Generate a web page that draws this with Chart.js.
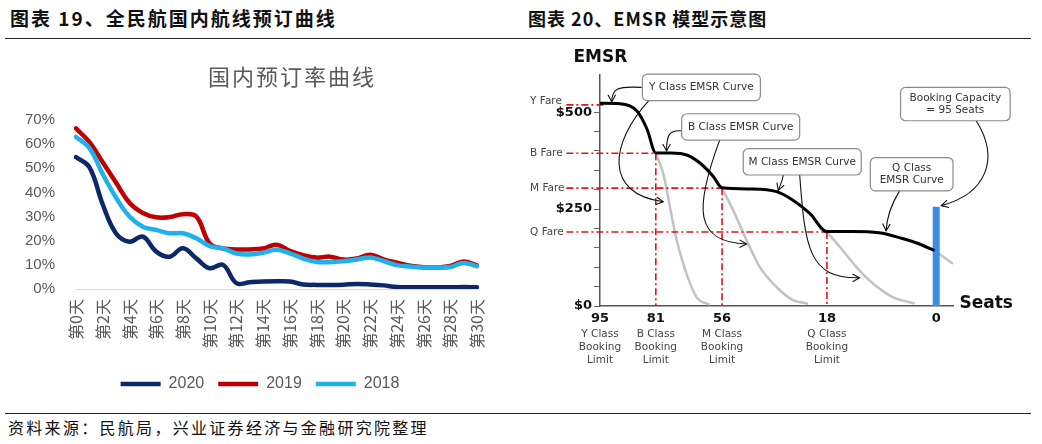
<!DOCTYPE html>
<html lang="zh-CN">
<head>
<meta charset="utf-8">
<title>国内预订率曲线 / EMSR 模型示意图</title>
<script src="https://cdn.jsdelivr.net/npm/chart.js@4.4.1/dist/chart.umd.min.js"></script>
<style>
    html, body { margin: 0; padding: 0; background: #fff; }
    #page { position: relative; width: 1042px; height: 444px; overflow: hidden; }
    .fig-title { position: absolute; top: 6px; font-family: "Noto Sans CJK SC"; font-weight: bold;
                 font-size: 18px; line-height: 24px; color: #111; white-space: pre; }
    .rule { position: absolute; left: 5px; width: 1026px; height: 0; border-top: 1.5px solid #222; }
    .source { position: absolute; left: 8px; top: 416px; font-family: "Noto Sans CJK SC";
              font-size: 16px; line-height: 22px; color: #111; letter-spacing: 2.3px; white-space: nowrap; }
    canvas { position: absolute; top: 40px; }
</style>
</head>
<body>
<div id="page">
    <div class="fig-title" style="left:10px; font-size:19px; letter-spacing:2px">图表 19、全民航国内航线预订曲线</div>
    <div class="fig-title" style="left:528px; letter-spacing:1px">图表 20、EMSR 模型示意图</div>
    <div class="rule" style="top:38px"></div>
    <canvas id="bookingChart" width="520" height="360" style="left:0"></canvas>
    <canvas id="emsrChart" width="522" height="360" style="left:520px"></canvas>
    <div class="rule" style="top:413px"></div>
    <div class="source">资料来源：民航局，兴业证券经济与金融研究院整理</div>
</div>
<script>
// 左图：国内预订率曲线（%）
const dayLabels = ['第0天', '第1天', '第2天', '第3天', '第4天', '第5天', '第6天', '第7天', '第8天', '第9天',
    '第10天', '第11天', '第12天', '第13天', '第14天', '第15天', '第16天', '第17天', '第18天', '第19天',
    '第20天', '第21天', '第22天', '第23天', '第24天', '第25天', '第26天', '第27天', '第28天', '第29天', '第30天'];
const rate2020 = [54.6, 50.5, 35, 23, 19.6, 21.7, 15.5, 13.4, 16.9, 12.7, 8.6, 10, 2.4, 2.8, 3.1, 3.2,
    3.1, 1.9, 1.7, 1.7, 1.8, 2.1, 1.9, 1.5, 0.8, 0.7, 0.7, 0.7, 0.7, 0.8, 0.7];
const rate2019 = [66.5, 60.9, 52.5, 44, 35.7, 31.5, 29.7, 29.8, 31, 30, 18.9, 16.8, 16.4, 16.4, 16.8, 18.3,
    15.8, 14, 13, 13.4, 12.2, 12.6, 14.2, 12.3, 10.9, 9.6, 9, 8.9, 9.5, 11.4, 9.8];
const rate2018 = [63, 58.4, 47.6, 37.8, 30, 25.8, 24.5, 23.1, 23.1, 21, 17.8, 16.8, 14.7, 14.3, 15, 16.3,
    14.8, 12.6, 11.2, 11.1, 11.5, 12.2, 13, 11.6, 9.9, 9.3, 8.9, 8.9, 9.1, 10.8, 9.4];

// 右图：EMSR 模型示意（横轴为示意位置，纵轴为票价 $）
const seatPos = [0, 16.6, 36.3, 67.5, 100];
const seatLabels = ['95', '81', '56', '18', '0'];
const seatNotes = [['Y Class', 'Booking', 'Limit'], ['B Class', 'Booking', 'Limit'],
    ['M Class', 'Booking', 'Limit'], ['Q Class', 'Booking', 'Limit'], ''];
const fareNames = ['Y Fare', 'B Fare', 'M Fare', 'Q Fare'];
const fareValues = [519, 394, 304, 191];
const fareEnds = [1, 16.6, 36.3, 67.5];
const emsrCurve = [[0, 523], [6, 522], [11, 503], [14, 456], [16.6, 395], [21, 395], [26, 389], [30, 367],
    [33.7, 334], [36.3, 305], [45.5, 302], [52.5, 295], [57.4, 273], [62.4, 239], [67.5, 192], [75, 192],
    [83, 189], [90, 174], [95, 160], [99.5, 143]];
const classCurves = [
    [[16.6, 394], [18.8, 342], [20.8, 256], [22.8, 170], [25.7, 84], [28.7, 23], [32.7, 3]],
    [[36.3, 304], [39.6, 247], [43.6, 170], [47.5, 101], [52.5, 49], [57.4, 15], [61.9, 6]],
    [[67.5, 191], [71.3, 153], [76.2, 101], [81.2, 58], [87.1, 23], [93.6, 6]],
    [[100, 140], [105, 109], [110.4, 79]]
];
const capacityPos = 100;
const capacityTop = 256;

document.addEventListener('DOMContentLoaded', function () {
    Chart.defaults.animation = false;

    // 标题（不居中于绘图区，所以单独画）
    const chartTitle = {
        id: 'chartTitle',
        afterDraw(chart, args, opts) {
            const ctx = chart.ctx;
            ctx.save();
            ctx.font = opts.font;
            ctx.fillStyle = opts.color;
            ctx.letterSpacing = opts.spacing;
            ctx.textAlign = 'center';
            ctx.textBaseline = 'middle';
            ctx.fillText(opts.text, opts.x, opts.y);
            ctx.restore();
        }
    };

    const grey = '#595959';
    const lineWidth = 4.5;
    new Chart(document.getElementById('bookingChart'), {
        type: 'line',
        data: {
            labels: dayLabels,
            datasets: [
                { label: '2020', data: rate2020, borderColor: '#0d2869', backgroundColor: '#0d2869', borderWidth: lineWidth, order: 3 },
                { label: '2019', data: rate2019, borderColor: '#c00000', backgroundColor: '#c00000', borderWidth: lineWidth, order: 2 },
                { label: '2018', data: rate2018, borderColor: '#1eb1ea', backgroundColor: '#1eb1ea', borderWidth: lineWidth, order: 1 }
            ]
        },
        options: {
            responsive: false,
            layout: { padding: { left: 0, right: 0, top: 80, bottom: -2 } },
            elements: {
                line: { tension: 0.4, borderCapStyle: 'round' },
                point: { radius: 0 }
            },
            scales: {
                x: {
                    grid: { display: false, drawTicks: false },
                    border: { color: '#d9d9d9', width: 1 },
                    ticks: {
                        autoSkip: false, minRotation: 90, maxRotation: 90, padding: 10,
                        color: grey, font: { family: 'Noto Sans CJK SC', size: 16 },
                        callback: function (value, index) {
                            return index % 2 === 0 ? this.getLabelForValue(value) : '';
                        }
                    },
                    afterFit: (scale) => { scale.height = 73; }
                },
                y: {
                    min: 0, max: 70,
                    grid: { display: false, drawTicks: false },
                    border: { display: false },
                    ticks: {
                        stepSize: 10, padding: 21, color: grey,
                        font: { family: 'Liberation Sans', size: 15 },
                        callback: (v) => v + '%'
                    },
                    afterFit: (scale) => { scale.width = 76; }
                },
                // 右侧留白，让图例整体居中于 262 左右
                spacer: {
                    type: 'linear', position: 'right', display: true,
                    grid: { display: false, drawTicks: false },
                    border: { display: false },
                    ticks: { display: false },
                    afterFit: (scale) => { scale.width = 43; }
                }
            },
            plugins: {
                legend: {
                    position: 'bottom',
                    labels: {
                        usePointStyle: true, pointStyle: 'line', pointStyleWidth: 40,
                        padding: 14, color: grey, font: { family: 'Liberation Sans', size: 16 },
                        sort: (a, b) => a.datasetIndex - b.datasetIndex
                    }
                },
                tooltip: { enabled: false },
                chartTitle: { text: '国内预订率曲线', x: 292, y: 37, color: grey, spacing: '2px', font: '22px "Noto Sans CJK SC"' }
            }
        },
        plugins: [chartTitle]
    });

    // 右图的注释：说明框、箭头、票价名
    const calloutBoxes = [
        { lines: ['Y Class EMSR Curve'], x0: 12.6, x1: 47.7, y0: 530, y1: 598 },
        { lines: ['B Class EMSR Curve'], x0: 24.3, x1: 59.4, y0: 428, y1: 496 },
        { lines: ['M Class EMSR Curve'], x0: 42.6, x1: 77.7, y0: 338, y1: 406 },
        { lines: ['Q Class', 'EMSR Curve'], x0: 80.4, x1: 105, y0: 297, y1: 383 },
        { lines: ['Booking Capacity', '= 95 Seats'], x0: 89.4, x1: 122, y0: 478, y1: 564 }
    ];
    const arrows = [
        [[12.4, 564], [5, 568], [3.5, 560], [3.5, 527]],
        [[14.5, 530], [3, 420], [1, 290], [18.8, 269]],
        [[24.3, 452], [20.5, 455], [19.8, 440], [19.8, 400]],
        [[35.6, 428], [28, 250], [28, 165], [43.6, 160]],
        [[54.5, 338], [54.3, 320], [53.5, 310], [53, 298]],
        [[59.4, 338], [61, 150], [62, 70], [77.2, 73]],
        [[89.1, 297], [86.5, 260], [85.3, 230], [85.1, 194]],
        [[111.9, 478], [119, 380], [115, 290], [101.5, 259]]
    ];

    const emsrNotes = {
        id: 'emsrNotes',
        afterDatasetsDraw(chart) {
            const { ctx, scales } = chart;
            const px = (v) => scales.x.getPixelForValue(v);
            const py = (v) => scales.y.getPixelForValue(v);
            ctx.save();

            // 箭头
            ctx.strokeStyle = '#111';
            ctx.lineWidth = 1.1;
            arrows.forEach(a => {
                const p = a.map(([x, y]) => [px(x), py(y)]);
                ctx.beginPath();
                ctx.moveTo(p[0][0], p[0][1]);
                ctx.bezierCurveTo(p[1][0], p[1][1], p[2][0], p[2][1], p[3][0], p[3][1]);
                ctx.stroke();
                const ang = Math.atan2(p[3][1] - p[2][1], p[3][0] - p[2][0]);
                const len = 8, spread = 0.5;
                ctx.beginPath();
                ctx.moveTo(p[3][0] - len * Math.cos(ang - spread), p[3][1] - len * Math.sin(ang - spread));
                ctx.lineTo(p[3][0], p[3][1]);
                ctx.lineTo(p[3][0] - len * Math.cos(ang + spread), p[3][1] - len * Math.sin(ang + spread));
                ctx.stroke();
            });

            // 说明框
            ctx.font = '10.5px "DejaVu Sans"';
            ctx.textAlign = 'center';
            ctx.textBaseline = 'middle';
            calloutBoxes.forEach(b => {
                const left = px(b.x0), right = px(b.x1), top = py(b.y1), bottom = py(b.y0);
                ctx.beginPath();
                ctx.roundRect(left, top, right - left, bottom - top, 5);
                ctx.fillStyle = '#fff';
                ctx.fill();
                ctx.strokeStyle = '#8a8a8a';
                ctx.lineWidth = 1.2;
                ctx.stroke();
                ctx.fillStyle = '#333';
                const mid = (top + bottom) / 2, lh = 12;
                b.lines.forEach((t, i) => {
                    ctx.fillText(t, (left + right) / 2, mid + (i - (b.lines.length - 1) / 2) * lh);
                });
            });

            // 票价名
            ctx.textAlign = 'left';
            ctx.fillStyle = '#444';
            fareNames.forEach((name, i) => {
                const off = i === 0 ? -4 : 0;
                ctx.fillText(name, px(-20.8), py(fareValues[i]) + off);
            });

            // 轴名
            ctx.font = 'bold 17px "DejaVu Sans"';
            ctx.fillStyle = '#111';
            ctx.fillText('EMSR', px(-7.9), py(642));
            ctx.fillText('Seats', px(106.9), py(6));
            ctx.restore();
        }
    };

    const fareLines = [];
    fareValues.forEach((fare, i) => {
        fareLines.push({ data: [[-10, fare], [fareEnds[i], fare]] });
        if (i > 0) fareLines.push({ data: [[fareEnds[i], fare], [fareEnds[i], 0]] });
    });

    const emsrDatasets = [
        { data: emsrCurve, borderColor: '#000', borderWidth: 3, cubicInterpolationMode: 'monotone' },
        { data: [[capacityPos, 0], [capacityPos, capacityTop]], borderColor: '#3a8de6', borderWidth: 7, borderCapStyle: 'butt' },
        ...fareLines.map(f => ({ data: f.data, borderColor: '#e0141c', borderWidth: 1.6, borderDash: [7, 3, 2, 3] })),
        ...classCurves.map(c => ({ data: c, borderColor: '#c2c2c2', borderWidth: 2.5, cubicInterpolationMode: 'monotone' }))
    ].map(d => Object.assign({ clip: false, pointRadius: 0, fill: false }, d));

    const seatTicks = (axis) => { axis.ticks = seatPos.map(v => ({ value: v })); };

    new Chart(document.getElementById('emsrChart'), {
        type: 'line',
        data: { datasets: emsrDatasets },
        options: {
            responsive: false,
            layout: { padding: { left: 0, right: 89, top: 35, bottom: 0 } },
            scales: {
                x: {
                    type: 'linear', min: 0, max: 105,
                    grid: { display: false, drawTicks: false },
                    border: { color: '#555', width: 1.5 },
                    afterBuildTicks: seatTicks,
                    ticks: {
                        autoSkip: false, maxRotation: 0, padding: 5, color: '#111',
                        font: { family: 'DejaVu Sans', size: 13, weight: 'bold' },
                        callback: (v, i) => seatLabels[i]
                    },
                    afterFit: (scale) => { scale.height = 22; }
                },
                x2: {
                    type: 'linear', position: 'bottom', min: 0, max: 105,
                    grid: { display: false, drawTicks: false },
                    border: { display: false },
                    afterBuildTicks: seatTicks,
                    ticks: {
                        autoSkip: false, maxRotation: 0, padding: 0, color: '#444',
                        font: { family: 'DejaVu Sans', size: 10.5, lineHeight: 1.24 },
                        callback: (v, i) => seatNotes[i]
                    },
                    afterFit: (scale) => { scale.height = 72; }
                },
                y: {
                    min: 0, max: 596,
                    grid: { display: true, drawOnChartArea: false, drawTicks: true, tickLength: 6, color: '#666' },
                    border: { color: '#555', width: 1.5 },
                    afterBuildTicks: (axis) => {
                        axis.ticks = [0, 50, 100, 150, 200, 250, 300, 350, 400, 450, 500].map(v => ({ value: v }));
                    },
                    ticks: {
                        padding: 2, color: '#111',
                        font: { family: 'DejaVu Sans', size: 13, weight: 'bold' },
                        callback: (v) => (v % 250 === 0 ? '$' + v : '')
                    },
                    afterFit: (scale) => { scale.width = 80; }
                }
            },
            plugins: {
                legend: { display: false },
                tooltip: { enabled: false }
            }
        },
        plugins: [emsrNotes]
    });
});
</script>
</body>
</html>
